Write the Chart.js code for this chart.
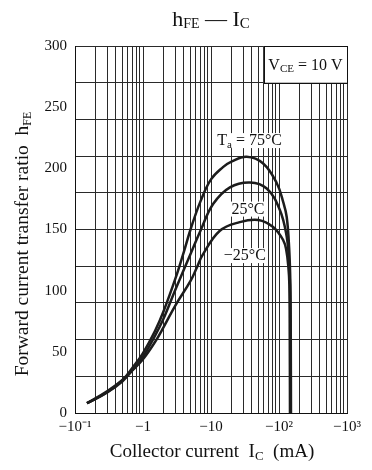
<!DOCTYPE html>
<html>
<head>
<meta charset="utf-8">
<script src="https://cdn.jsdelivr.net/npm/chart.js@4.4.1/dist/chart.umd.min.js"></script>
<style>
  html, body { margin: 0; padding: 0; background: #fff; }
  canvas { display: block; }
</style>
</head>
<body>
<canvas id="myChart" width="372" height="470"></canvas>
<script>
// collector current (mA, shown as negative on the axis) and hFE per temperature
const ic75 = [0.15, 0.3, 0.5, 0.7, 1, 1.5, 2, 3, 4, 5, 7, 10, 15, 20, 33.5, 58.5, 92.5, 116, 130, 141, 147, 149, 150]
const hfe75 = [8, 17, 27, 37, 49, 67, 83, 110, 132, 150, 173, 191, 201, 205.5, 209.5, 204, 188, 172, 160, 135, 105, 60, 0]
const ic25 = [0.15, 0.3, 0.5, 0.7, 1, 1.5, 2, 3, 5, 7, 10.8, 19, 37.5, 66, 103, 130, 140, 145, 147, 148]
const hfe25 = [8, 17, 26, 35, 46, 63, 77, 101, 130, 149, 171, 184.5, 188.5, 183.5, 166, 144, 125, 105, 60, 0]
const icM25 = [0.15, 0.3, 0.5, 0.7, 1, 1.5, 2, 3, 5, 6.2, 7.5, 13.5, 26.4, 49.7, 82, 116, 128, 137, 142, 144, 145]
const hfeM25 = [8, 18, 27, 35, 44, 58, 70, 88, 108, 119, 129, 149, 156, 157.8, 152, 141, 133, 120, 105, 60, 0]

const xDecades = [0.1, 1, 10, 100, 1000]
const xTickLabels = ['\u221210\u207B\u00B9', '\u22121', '\u221210', '\u221210\u00B2', '\u221210\u00B3']
const yLabelValues = [0, 50, 100, 150, 200, 250, 300]
const yGridStep = 30

const FONT = '"Liberation Serif", "Times New Roman", serif'

// grid ticks: 1..9 per decade
let xGridValues = []
for (let d = 0; d < xDecades.length - 1; d++) {
  for (let m = 1; m < 10; m++) xGridValues.push(+(m * xDecades[d]).toPrecision(3))
}
xGridValues.push(xDecades[xDecades.length - 1])

let yTickValues = yLabelValues.slice()
for (let v = 0; v <= 300; v += yGridStep) if (!yTickValues.includes(v)) yTickValues.push(v)
yTickValues.sort((a, b) => a - b)

const mkData = (xs, ys) => xs.map((c, i) => ({ x: c, y: ys[i] }))

function drawParts(ctx, parts, x, y, align) {
  let w = 0
  parts.forEach(p => {
    ctx.font = p.size + 'px ' + FONT
    p.w = ctx.measureText(p.text).width
    w += p.w
  })
  let cx = align === 'center' ? x - w / 2 : x
  parts.forEach(p => {
    ctx.font = p.size + 'px ' + FONT
    ctx.fillText(p.text, cx, y + (p.dy || 0))
    cx += p.w
  })
  return w
}

const textPlugin = {
  id: 'texts',
  afterDraw(chart) {
    const ctx = chart.ctx
    const xs = chart.scales.x, ys = chart.scales.y
    ctx.save()
    ctx.fillStyle = '#111'
    ctx.textBaseline = 'alphabetic'
    ctx.textAlign = 'left'

    // title
    drawParts(ctx, [
      { text: 'h', size: 22 }, { text: 'FE', size: 14, dy: 2 },
      { text: ' \u2014 ', size: 22 },
      { text: 'I', size: 22 }, { text: 'C', size: 15, dy: 2 }
    ], 211, 26, 'center')

    // x title
    drawParts(ctx, [
      { text: 'Collector current  I', size: 19 }, { text: 'C', size: 13, dy: 3 },
      { text: ' \u00A0(mA)', size: 19 }
    ], 212, 457, 'center')

    // y title
    ctx.save()
    ctx.translate(28, 244)
    ctx.rotate(-Math.PI / 2)
    drawParts(ctx, [
      { text: 'Forward current transfer ratio  h', size: 19.5 }, { text: 'FE', size: 12, dy: 3 }
    ], 0, 0, 'center')
    ctx.restore()

    // V_CE box
    const bx1 = xs.getPixelForValue(60), bx2 = xs.getPixelForValue(1000)
    const by1 = ys.getPixelForValue(300), by2 = ys.getPixelForValue(270)
    ctx.fillStyle = '#fff'
    ctx.fillRect(bx1, by1, bx2 - bx1, by2 - by1)
    ctx.strokeStyle = '#111'
    ctx.lineWidth = 1
    ctx.strokeRect(Math.round(bx1) + 0.5, Math.round(by1) + 0.5, Math.round(bx2 - bx1), Math.round(by2 - by1))
    ctx.fillStyle = '#111'
    drawParts(ctx, [
      { text: 'V', size: 16 }, { text: 'CE', size: 11, dy: 2 }, { text: ' = 10 V', size: 16 }
    ], (bx1 + bx2) / 2, (by1 + by2) / 2 + 6, 'center')

    // curve labels with white backgrounds
    const labels = [
      { x: 37, y: 219, parts: [{ text: 'T', size: 16 }, { text: 'a', size: 11, dy: 3 }, { text: ' = 75\u00B0C', size: 16 }] },
      { x: 35, y: 163, parts: [{ text: '25\u00B0C', size: 16 }] },
      { x: 31.5, y: 125, parts: [{ text: '\u221225\u00B0C', size: 16 }] }
    ]
    labels.forEach(l => {
      const px = xs.getPixelForValue(l.x), py = ys.getPixelForValue(l.y)
      let w = 0
      l.parts.forEach(p => { ctx.font = p.size + 'px ' + FONT; w += ctx.measureText(p.text).width })
      ctx.fillStyle = '#fff'
      ctx.fillRect(px - w / 2 - 1, py - 12, w + 2, 15)
      ctx.fillStyle = '#111'
      drawParts(ctx, l.parts, px, py, 'center')
    })
    ctx.restore()
  }
}

const lineStyle = {
  borderColor: '#1c1c1c',
  borderWidth: 2.5,
  pointRadius: 0,
  fill: false,
  tension: 0.4
}

new Chart(document.getElementById('myChart').getContext('2d'), {
  type: 'line',
  data: {
    datasets: [
      { label: '75', data: mkData(ic75, hfe75), ...lineStyle },
      { label: '25', data: mkData(ic25, hfe25), ...lineStyle },
      { label: '-25', data: mkData(icM25, hfeM25), ...lineStyle }
    ]
  },
  options: {
    responsive: false,
    animation: false,
    layout: { padding: { top: 46, right: 25, left: 0, bottom: 0 } },
    scales: {
      x: {
        type: 'logarithmic',
        min: 0.1,
        max: 1000,
        afterBuildTicks: s => { s.ticks = xGridValues.map(v => ({ value: v })) },
        afterFit: s => { s.height = 57 },
        grid: { color: '#2a2a2a', lineWidth: 1, drawTicks: false },
        border: { color: '#111', width: 1 },
        ticks: {
          autoSkip: false,
          maxRotation: 0,
          padding: 5,
          color: '#111',
          font: { family: FONT, size: 15 },
          callback: (v) => {
            const i = xDecades.findIndex(d => Math.abs(d - v) < d * 1e-6)
            return i >= 0 ? xTickLabels[i] : ''
          }
        }
      },
      y: {
        min: 0,
        max: 300,
        afterBuildTicks: s => { s.ticks = yTickValues.map(v => ({ value: v })) },
        afterFit: s => { s.width = 75 },
        grid: {
          color: c => (c.tick && c.tick.value % yGridStep === 0) ? '#2a2a2a' : 'rgba(0,0,0,0)',
          lineWidth: 1,
          drawTicks: false
        },
        border: { color: '#111', width: 1 },
        ticks: {
          autoSkip: false,
          padding: 8,
          color: '#111',
          font: { family: FONT, size: 15 },
          callback: v => yLabelValues.includes(v) ? String(v) : ''
        }
      }
    },
    plugins: {
      legend: { display: false },
      tooltip: { enabled: false }
    }
  },
  plugins: [textPlugin]
});
</script>
</body>
</html>
